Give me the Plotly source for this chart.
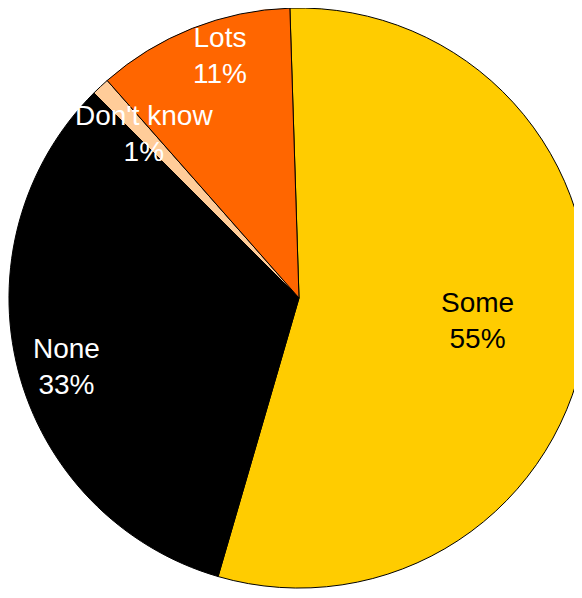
import math
import plotly.graph_objects as go

labels = ["Some", "None", "Don't know", "Lots"]
values = [55, 33, 1, 11]
colors = ["#FFCC00", "#000000", "#FFCC99", "#FF6600"]
text_colors = ["#000000", "#FFFFFF", "#FFFFFF", "#FFFFFF"]

# label placement: fraction of radius and angular nudge (deg) from slice middle
label_radius = [0.62, 0.835, 0.78, 0.88]
label_nudge = [0.0, -2.0, 0.0, 3.5]

W, H = 582, 598
ROT = -1.8
dom_x = [0.0, 1.0]
dom_y = [0.03, 1.0]

fig = go.Figure(go.Pie(
    labels=labels,
    values=values,
    sort=False,
    direction="clockwise",
    rotation=ROT,
    marker=dict(colors=colors, line=dict(color="#000000", width=1)),
    textinfo="none",
    domain=dict(x=dom_x, y=dom_y),
    showlegend=False,
    hoverinfo="label+percent",
))

cx = (dom_x[0] + dom_x[1]) / 2 * W
cy = (dom_y[0] + dom_y[1]) / 2 * H
r = min((dom_x[1] - dom_x[0]) * W, (dom_y[1] - dom_y[0]) * H) / 2
total = sum(values)
cum = 0
for lab, v, tc, f, nd in zip(labels, values, text_colors, label_radius, label_nudge):
    mid = ROT + (cum + v / 2) / total * 360 + nd
    cum += v
    a = math.radians(mid)
    x = cx + f * r * math.sin(a)
    y = cy + f * r * math.cos(a)
    fig.add_annotation(
        x=x / W, y=y / H, xref="paper", yref="paper",
        text=f"{lab}<br>{round(v / total * 100)}%",
        showarrow=False,
        font=dict(family="Liberation Sans, Arial, sans-serif", size=28, color=tc),
        xanchor="center", yanchor="middle", align="center",
    )

fig.update_layout(
    width=W, height=H,
    margin=dict(l=0, r=0, t=0, b=0),
    paper_bgcolor="white",
    plot_bgcolor="white",
)
fig.write_html("out.html")
